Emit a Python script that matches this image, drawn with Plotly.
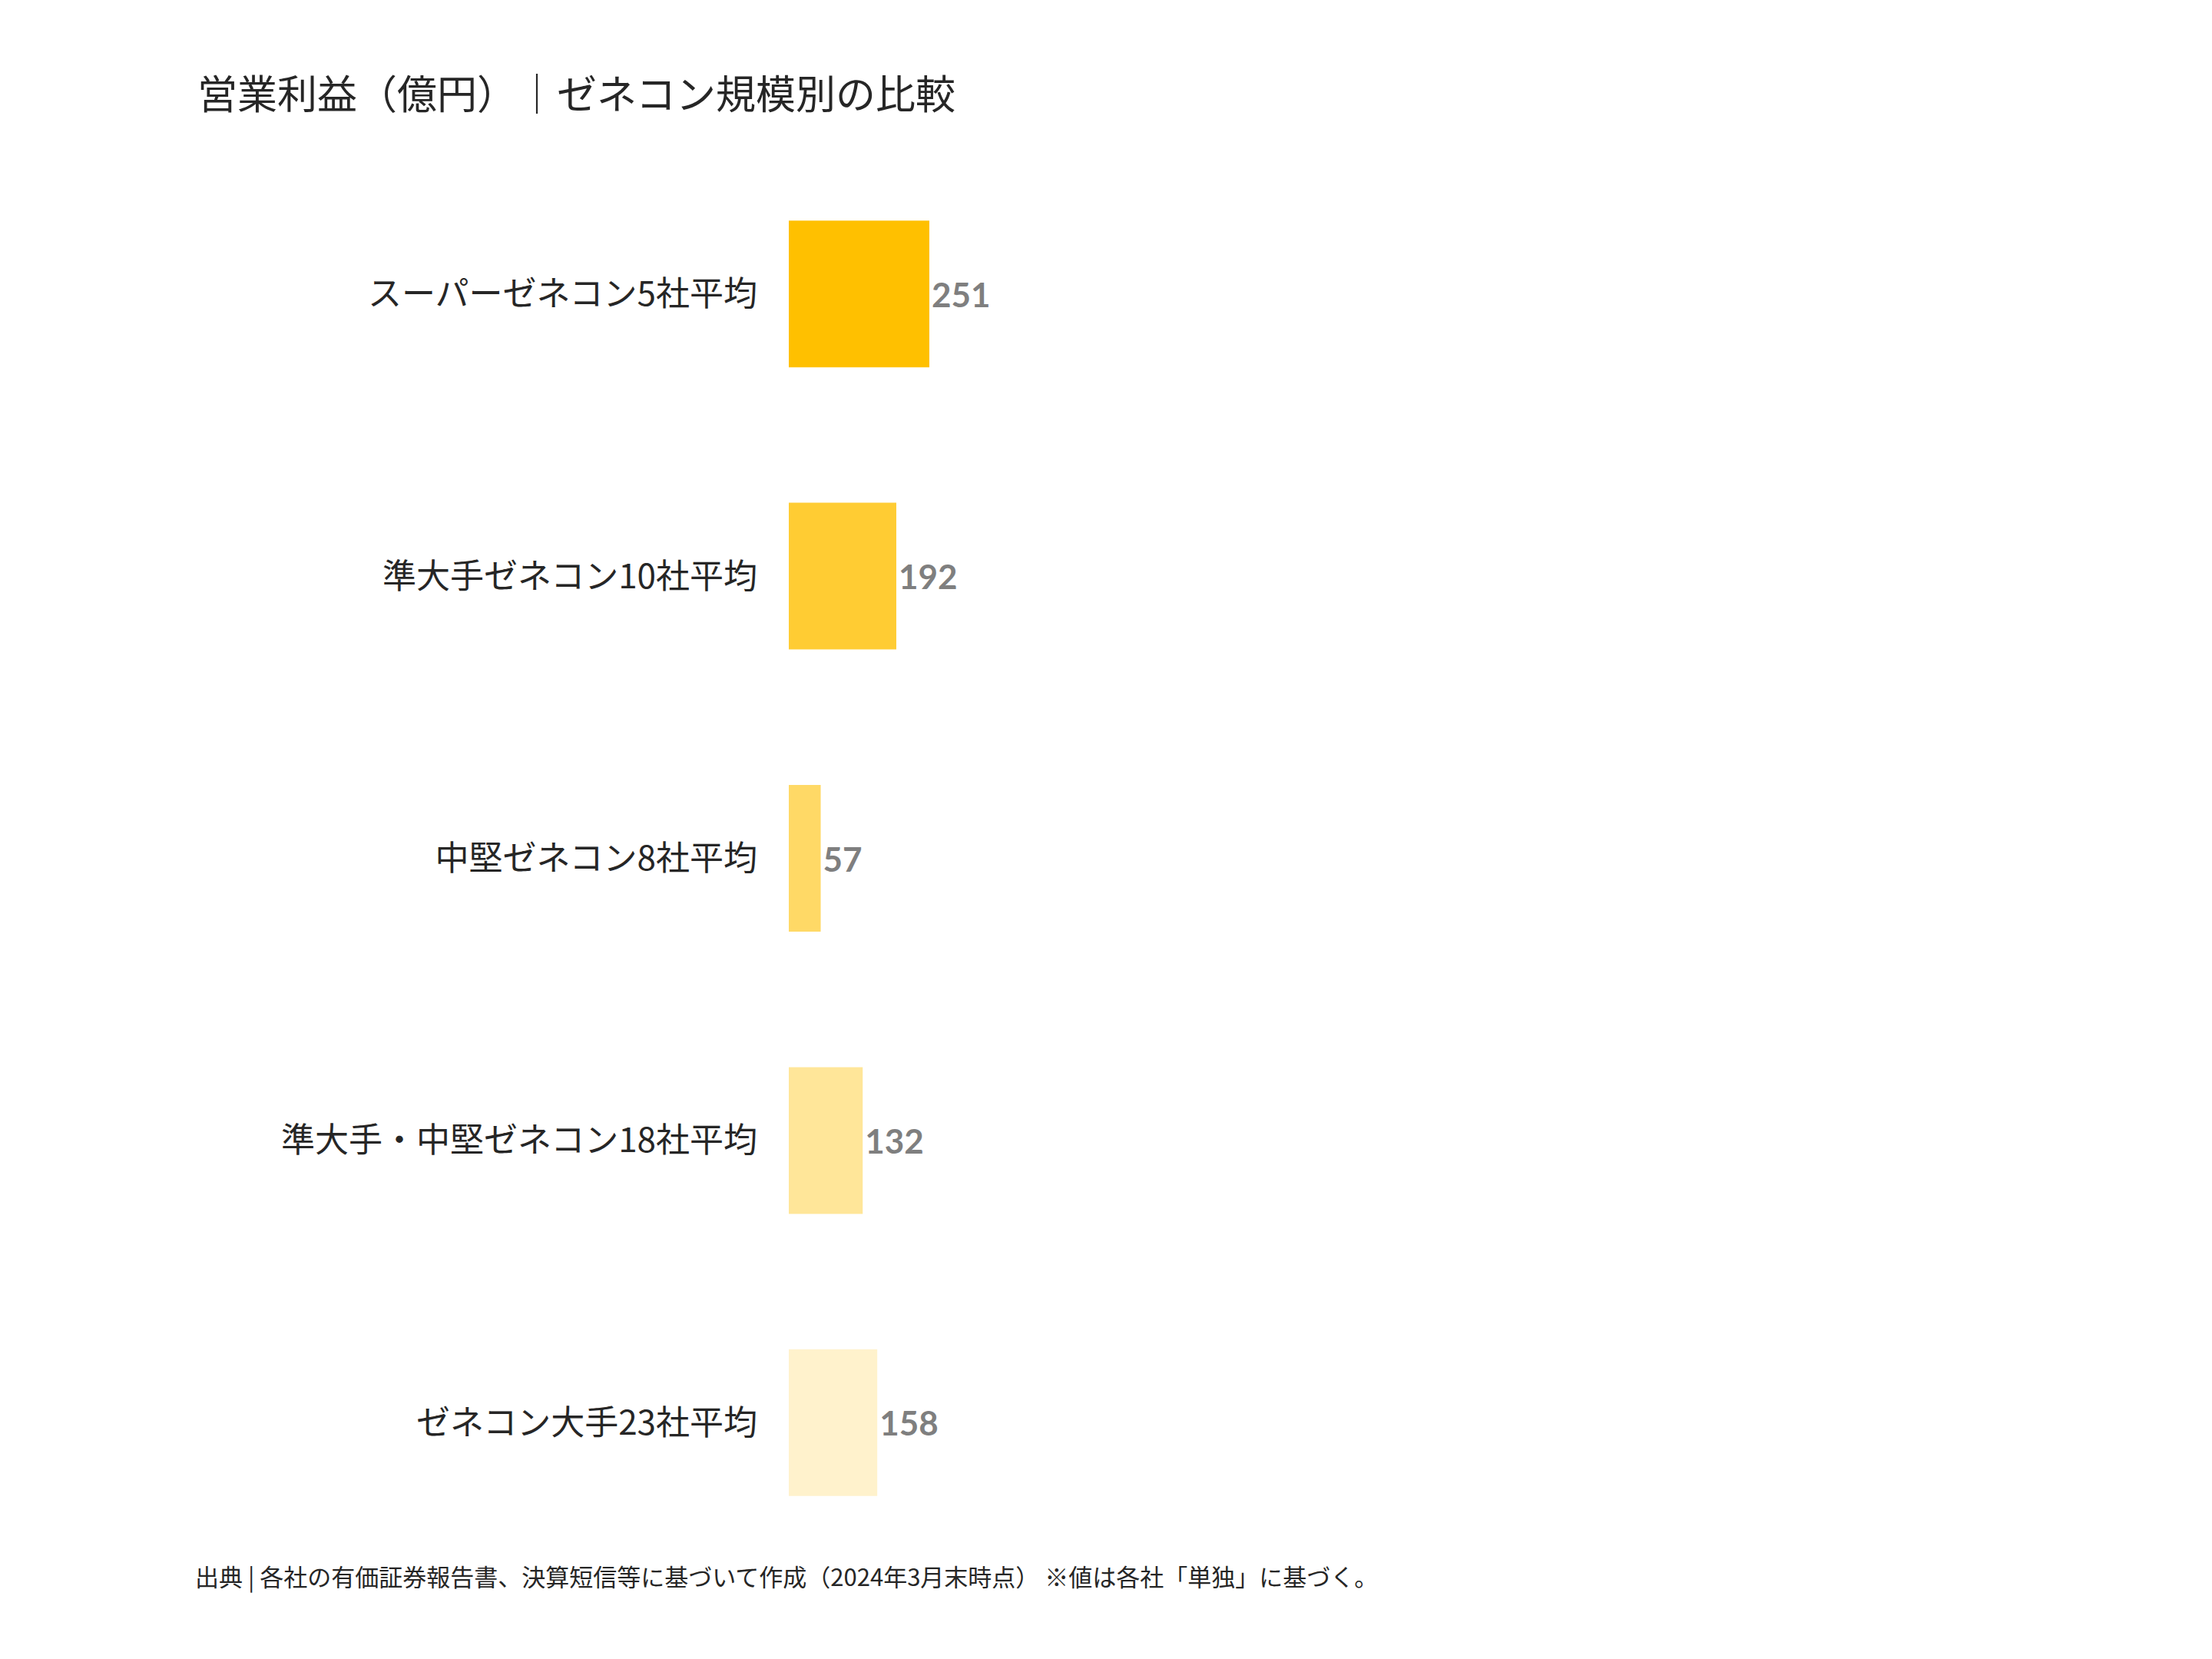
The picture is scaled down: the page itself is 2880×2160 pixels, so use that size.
import plotly.graph_objects as go

categories = ["スーパーゼネコン5社平均", "準大手ゼネコン10社平均", "中堅ゼネコン8社平均",
              "準大手・中堅ゼネコン18社平均", "ゼネコン大手23社平均"]
values = [251, 192, 57, 132, 158]
colors = ["#FFC000", "#FFCC33", "#FFD966", "#FFE699", "#FFF2CC"]

fig = go.Figure(go.Bar(
    x=values, y=categories, orientation="h",
    marker=dict(color=colors, line=dict(width=0)),
    text=[str(v) for v in values], textposition="outside", cliponaxis=False,
    textfont=dict(family="Lato", size=44, color="#7F7F7F", weight="bold"),
))
fig.update_layout(
    width=2880, height=2160,
    paper_bgcolor="white", plot_bgcolor="white",
    margin=dict(l=1019, r=80, t=191, b=132),
    bargap=0.48, showlegend=False,
    font=dict(family="Noto Sans CJK JP", color="#262626"),
    title=dict(text="営業利益（億円）｜ゼネコン規模別の比較", x=249/2880, xanchor="left",
               y=1-116/2160, yanchor="middle", font=dict(size=52, color="#262626")),
    xaxis=dict(range=[0, 2443], visible=False),
    yaxis=dict(autorange="reversed", showgrid=False, showline=False, ticks="",
               tickfont=dict(size=44, color="#262626"), ticklabelstandoff=40),
    annotations=[dict(text="出典 | 各社の有価証券報告書、決算短信等に基づいて作成（2024年3月末時点） ※値は各社「単独」に基づく。",
                      xref="paper", yref="paper", x=244/2880 - 1019/1781*0 , xanchor="left",
                      y=0, yanchor="middle", showarrow=False,
                      font=dict(size=31, color="#262626"))],
)
# footer positioned in paper coordinates relative to plot area
fig.layout.annotations[0].x = (244 - 1019) / (2880 - 1019 - 80)
fig.layout.annotations[0].y = (2160 - 132 - 2044) / (2160 - 191 - 132)
fig.write_html("out.html")
